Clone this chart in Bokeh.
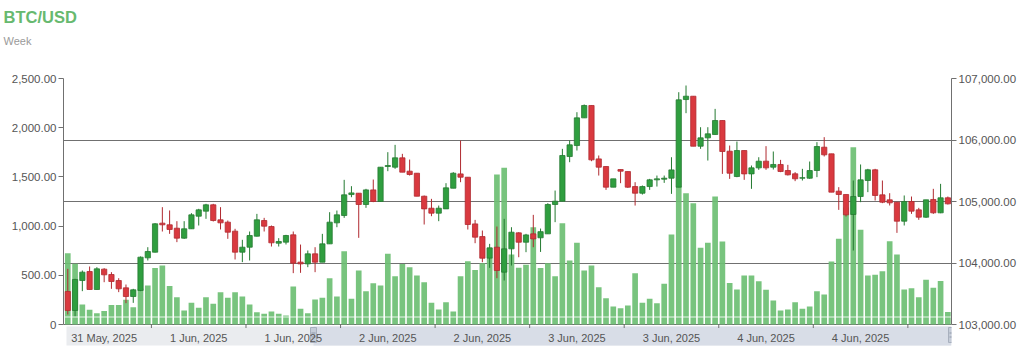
from bokeh.plotting import figure
from bokeh.models import Range1d, LinearAxis, FixedTicker, NumeralTickFormatter, Grid, Title
from bokeh.embed import file_html
from bokeh.resources import INLINE
from bokeh.core.properties import value

# ---------------- data ----------------
open_ = [103537, 103228, 103715, 103862, 103569, 103900, 103813, 103715, 103596, 103455,
         103553, 104084, 104176, 104648, 104621, 104566, 104404, 104556, 104761, 104843,
         104946, 104702, 104664, 104518, 104176, 104257, 104436, 104691, 104593, 104322,
         104339, 104458, 104014, 103986, 104149, 104013, 104311, 104653, 104772, 105113,
         105135, 104951, 105189, 105000, 105569, 105558, 105710, 105493, 105460, 105086,
         104891, 104810, 104880, 105216, 105449, 105395, 104636, 104430, 104078, 104257,
         103851, 104230, 104490, 104338, 104474, 104410, 104474, 104951, 105005, 105731,
         105910, 106360, 106561, 105693, 105569, 105233, 105520, 105487, 105243, 105135,
         105243, 105352, 105363, 105379, 105233, 106658, 106712, 105899, 106035, 106089,
         106317, 105818, 105406, 105829, 105449, 105547, 105656, 105558, 105602, 105504,
         105450, 105380, 105379, 105504, 105883, 105775, 105168, 105114, 104789, 105081,
         105341, 105515, 105108, 105027, 104989, 104680, 105000, 104864, 104745, 105033,
         104816, 105060]
high = [103905, 103743, 103878, 103943, 103932, 103916, 103851, 103753, 103650, 103580,
        104106, 104257, 104648, 104908, 104854, 104680, 104680, 104810, 104881, 104962,
        104962, 104908, 104691, 104556, 104377, 104512, 104799, 104734, 104610, 104404,
        104458, 104512, 104300, 104203, 104257, 104474, 104826, 104853, 105352, 105249,
        105135, 105206, 105357, 105558, 105802, 105921, 105775, 105682, 105460, 105097,
        105043, 104934, 105298, 105477, 105991, 105395, 104701, 104528, 104311, 104593,
        104718, 104582, 104501, 104474, 104783, 104560, 104972, 105178, 105856, 105991,
        106452, 106577, 106561, 105748, 105569, 105368, 105520, 105487, 105314, 105260,
        105368, 105422, 105422, 105720, 106777, 106886, 106712, 106208, 106208, 106506,
        106317, 105910, 105975, 105829, 105585, 105720, 105900, 105813, 105677, 105596,
        105477, 105531, 105650, 105965, 106046, 105775, 105233, 105114, 105341, 105602,
        105531, 105531, 105341, 105135, 104989, 105098, 105081, 104897, 105027, 105206,
        105287, 105081]
low = [103163, 103135, 103542, 103569, 103569, 103688, 103580, 103526, 103347, 103352,
       103542, 104041, 104171, 104512, 104474, 104339, 104393, 104556, 104610, 104718,
       104675, 104545, 104393, 104057, 104014, 104041, 104431, 104512, 104268, 104268,
       104301, 103835, 103840, 103932, 103851, 104013, 104311, 104582, 104734, 105070,
       104409, 104897, 104989, 105000, 105493, 105531, 105477, 105422, 105086, 104626,
       104761, 104680, 104880, 105216, 105314, 104544, 104322, 104013, 103921, 103753,
       103715, 103959, 104094, 104176, 104257, 104180, 104474, 104664, 105005, 105639,
       105829, 106360, 105655, 105422, 105189, 105233, 105298, 105222, 104934, 105113,
       105189, 105243, 105303, 105124, 105233, 106436, 105899, 105856, 105666, 106089,
       105449, 105368, 105395, 105352, 105206, 105515, 105515, 105520, 105477, 105423,
       105331, 105341, 105369, 105396, 105732, 105152, 104864, 104756, 104203, 104989,
       105152, 105016, 104973, 104935, 104490, 104610, 104799, 104702, 104734, 104799,
       104810, 104951]
close = [103228, 103732, 103851, 103569, 103905, 103808, 103699, 103580, 103455, 103564,
         104095, 104187, 104637, 104621, 104545, 104404, 104556, 104783, 104864, 104946,
         104691, 104653, 104501, 104176, 104257, 104447, 104702, 104599, 104328, 104350,
         104447, 103997, 103986, 104149, 104013, 104311, 104664, 104783, 105108, 105140,
         104951, 105189, 105000, 105558, 105585, 105710, 105477, 105439, 105086, 104880,
         104810, 104891, 105222, 105460, 105395, 104626, 104420, 104078, 104246, 103878,
         104230, 104501, 104338, 104457, 104392, 104510, 104951, 105005, 105748, 105921,
         106360, 106561, 105677, 105558, 105233, 105368, 105493, 105233, 105135, 105243,
         105352, 105368, 105379, 105514, 106653, 106712, 105899, 106035, 106100, 106317,
         105813, 105460, 105829, 105449, 105547, 105655, 105547, 105602, 105488, 105434,
         105369, 105386, 105504, 105894, 105759, 105152, 105114, 104783, 105081, 105352,
         105515, 105098, 104989, 104978, 104680, 105000, 104843, 104745, 105027, 104816,
         105060, 104962]
volume = [725, 617, 203, 149, 115, 136, 197, 197, 251, 176,
          363, 396, 573, 600, 390, 278, 142, 220, 170, 278,
          210, 329, 271, 329, 285, 203, 125, 109, 132, 109,
          92, 386, 159, 115, 254, 271, 471, 284, 745, 261,
          548, 338, 420, 396, 718, 491, 616, 582, 498, 430,
          220, 152, 227, 132, 491, 643, 555, 623, 674, 1524,
          1592, 711, 576, 606, 989, 574, 623, 491, 1029, 650,
          830, 548, 599, 379, 267, 183, 166, 193, 521, 220,
          261, 216, 413, 914, 1400, 1334, 1233, 779, 830, 1300,
          843, 423, 355, 498, 498, 440, 352, 244, 142, 153,
          227, 159, 183, 339, 305, 640, 871, 1190, 1802, 962,
          498, 505, 542, 847, 711, 356, 369, 278, 454, 373,
          441, 126]

x_tick_labels = ["31 May, 2025", "1 Jun, 2025", "1 Jun, 2025", "2 Jun, 2025", "2 Jun, 2025",
                 "3 Jun, 2025", "3 Jun, 2025", "4 Jun, 2025", "4 Jun, 2025"]
x_label_pos = [5, 18, 31, 44, 57, 70, 83, 96, 109]          # candle index at label centre
x_tick_pos = [11.5, 24.5, 37.5, 50.5, 63.5, 76.5, 89.5, 102.5, 115.5]  # cell boundaries
vol_ticks = [0, 500, 1000, 1500, 2000, 2500]
price_ticks = [103000, 104000, 105000, 106000, 107000]
title_text = "BTC/USD"
subtitle_text = "Week"

# ---------------- layout (page pixels) ----------------
W, H = 1024, 352
FL, FR, FT, FB = 63, 951, 78, 346
BASE = 324
pad = (FB - BASE) / (BASE - FT)
vmin, vmax = vol_ticks[0], vol_ticks[-1]
pmin, pmax = price_ticks[0], price_ticks[-1]

idx = list(range(len(close)))

p = figure(width=W, height=H, output_backend="svg", toolbar_location=None,
           x_range=Range1d(-0.59, 121.5),
           y_range=Range1d(vmin - pad * (vmax - vmin), vmax),
           x_axis_location=None, y_axis_location=None,
           min_border_left=FL, min_border_right=W - FR,
           min_border_top=FT, min_border_bottom=H - FB)
p.grid.visible = False
p.outline_line_color = None
p.background_fill_color = "white"
p.border_fill_color = "white"
p.extra_y_ranges = {"price": Range1d(pmin - pad * (pmax - pmin), pmax),
                    "px": Range1d(FB, FT)}
p.extra_x_ranges = {"px": Range1d(FL, FR)}

# header: blank spacer next to the frame, then subtitle, then title
p.add_layout(Title(text=" ", align="left", standoff=18, vertical_align="bottom",
                   text_font="Liberation Sans", text_font_size="11px",
                   text_color="white"), "above")
p.add_layout(Title(text=subtitle_text, align="left", offset=3 - FL, standoff=0,
                   vertical_align="bottom", text_font="Liberation Sans",
                   text_font_size="11px", text_font_style="normal",
                   text_color="#9a9a9a"), "above")
p.add_layout(Title(text=title_text, align="left", offset=3 - FL, standoff=10,
                   vertical_align="top", text_font="Liberation Sans",
                   text_font_size="16.5px", text_font_style="bold",
                   text_color="#67b96f"), "above")

AX = "#707070"
TXT = "#555555"

# axes
la = LinearAxis(ticker=FixedTicker(ticks=vol_ticks),
                formatter=NumeralTickFormatter(format="0,0.00"),
                bounds=(vmin, vmax), major_label_overrides={0: "0"})
ra = LinearAxis(y_range_name="price", ticker=FixedTicker(ticks=price_ticks),
                formatter=NumeralTickFormatter(format="0,0.00"),
                bounds=(pmin, pmax))
for ax in (la, ra):
    ax.axis_line_color = AX
    ax.major_tick_line_color = AX
    ax.major_tick_out = 5
    ax.major_tick_in = 0
    ax.minor_tick_line_color = None
    ax.major_label_standoff = 2
    ax.major_label_text_font = "Liberation Sans"
    ax.major_label_text_font_size = "11.5px"
    ax.major_label_text_color = TXT
p.add_layout(la, "left")
p.add_layout(ra, "right")

g = Grid(dimension=1, ticker=FixedTicker(ticks=price_ticks), y_range_name="price",
         grid_line_color=AX, grid_line_width=1)
p.add_layout(g)

# volume bars
p.vbar(x=idx, top=volume, bottom=0, width=0.78, fill_color="#6dbf73",
       fill_alpha=0.92, line_color=None)

# faint band across bars
p.segment(x0=[FL], x1=[FR], y0=[316.5], y1=[316.5], x_range_name="px", y_range_name="px",
          line_color="white", line_alpha=0.55, line_width=1.5)

# candles
inc = [i for i in idx if close[i] >= open_[i]]
dec = [i for i in idx if close[i] < open_[i]]
for sel, fill, line in ((inc, "#2f9e3f", "#247a31"), (dec, "#d9393f", "#b02a30")):
    p.segment(x0=sel, x1=sel, y0=[low[i] for i in sel], y1=[high[i] for i in sel],
              y_range_name="price", line_color=line, line_width=1)
    p.vbar(x=sel, top=[max(open_[i], close[i]) for i in sel],
           bottom=[min(open_[i], close[i]) for i in sel], width=0.72,
           y_range_name="price", fill_color=fill, line_color=line, line_width=0.8)

# scrollbar
p.quad(left=[66], right=[FR], top=[326], bottom=[345], x_range_name="px", y_range_name="px",
       fill_color="#eaecef", line_color=None)
p.quad(left=[313], right=[FR], top=[326], bottom=[345], x_range_name="px", y_range_name="px",
       fill_color="#d8dde7", line_color=None)
p.rect(x=[313, FR], y=[334.5, 334.5], width=6, height=15, x_range_name="px", y_range_name="px",
       fill_color="#c5ccd8", line_color="#a8b0be", line_width=1)
p.segment(x0=[311, 311, FR - 2, FR - 2], x1=[315, 315, FR + 2, FR + 2],
          y0=[332.5, 336.5, 332.5, 336.5], y1=[332.5, 336.5, 332.5, 336.5],
          x_range_name="px", y_range_name="px", line_color="#8f98a8", line_width=1)

# x baseline ticks and labels
p.segment(x0=x_tick_pos, x1=x_tick_pos, y0=[vmin] * len(x_tick_pos),
          y1=[vmin - 0.16 * pad * (vmax - vmin)] * len(x_tick_pos),
          line_color=AX, line_width=1)
p.text(x=x_label_pos, y=[337] * len(x_label_pos), text=x_tick_labels, y_range_name="px",
       text_align="center", text_baseline="middle", text_font=value("Liberation Sans"),
       text_font_size="11px", text_color=TXT)

open("out.html", "w").write(file_html(p, INLINE))
